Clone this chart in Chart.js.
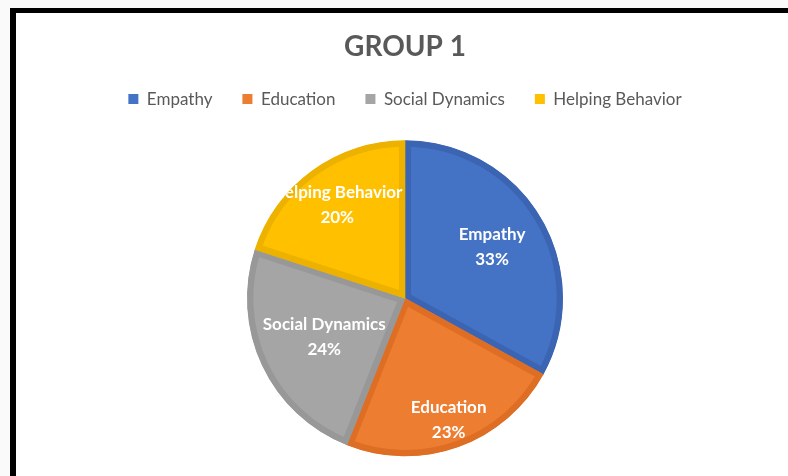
<!DOCTYPE html>
<html>
<head>
<meta charset="utf-8">
<script src="https://cdn.jsdelivr.net/npm/chart.js@4.4.1/dist/chart.umd.min.js"></script>
<style>
    html, body { margin: 0; padding: 0; background: #fafafa; overflow: hidden; }
    #frame {
        position: absolute; left: 10px; top: 8px; width: 820px; height: 520px;
        border-left: 6px solid #000; border-top: 5px solid #000; background: #fff;
    }
    #chart-wrap { position: absolute; left: 0; top: 0; width: 778px; height: 500px; }
</style>
</head>
<body>
<div id="frame">
    <div id="chart-wrap"><canvas id="groupChart"></canvas></div>
</div>
<script>
const categories = ['Empathy', 'Education', 'Social Dynamics', 'Helping Behavior'];
const shares = [33, 23, 24, 20];
const sliceColors = ['#4472C4', '#ED7D31', '#A5A5A5', '#FFC000'];
const edgeColors = ['#3B65B3', '#DD6E24', '#989898', '#EDB200'];

// Draws "Name / NN%" inside each slice, clipped to the slice like the office chart does
const sliceLabels = {
    id: 'sliceLabels',
    afterDatasetsDraw(chart, args, opts) {
        const ctx = chart.ctx;
        const meta = chart.getDatasetMeta(0);
        meta.data.forEach((arc, i) => {
            const p = arc.getProps(['x', 'y', 'startAngle', 'endAngle', 'outerRadius']);
            const mid = (p.startAngle + p.endAngle) / 2;
            const r = p.outerRadius * opts.radiusFactor[i];
            const cx = p.x + Math.cos(mid) * r;
            const cy = p.y + Math.sin(mid) * r;

            ctx.save();
            ctx.beginPath();
            ctx.moveTo(p.x, p.y);
            ctx.arc(p.x, p.y, p.outerRadius, p.startAngle, p.endAngle);
            ctx.closePath();
            ctx.clip();
            ctx.fillStyle = '#ffffff';
            ctx.font = 'bold 17px Lato';
            ctx.textAlign = 'center';
            ctx.textBaseline = 'middle';
            ctx.fillText(categories[i], cx, cy - 12);
            ctx.fillText(shares[i] + '%', cx, cy + 13);
            ctx.restore();
        });
    }
};

new Chart(document.getElementById('groupChart'), {
    type: 'pie',
    data: {
        labels: categories,
        datasets: [{
            data: shares,
            backgroundColor: sliceColors,
            borderColor: edgeColors,
            borderWidth: 6,
            borderAlign: 'inner',
            radius: 158
        }]
    },
    options: {
        responsive: true,
        maintainAspectRatio: false,
        animation: false,
        layout: { padding: { top: 0, bottom: 34 } },
        plugins: {
            title: {
                display: true,
                text: 'GROUP 1',
                color: '#595959',
                font: { family: 'Lato', size: 28, weight: 'bold' },
                padding: { top: 17, bottom: -3 }
            },
            legend: {
                position: 'top',
                labels: {
                    color: '#595959',
                    font: { family: 'Lato', size: 17 },
                    boxWidth: 10,
                    boxHeight: 10,
                    padding: 30,
                    // plain filled squares, no outline
                    generateLabels(chart) {
                        return categories.map((name, i) => ({
                            text: name,
                            fillStyle: sliceColors[i],
                            strokeStyle: sliceColors[i],
                            lineWidth: 0,
                            fontColor: '#595959',
                            hidden: false,
                            index: i
                        }));
                    }
                }
            },
            tooltip: { enabled: false },
            sliceLabels: { radiusFactor: [0.64, 0.815, 0.565, 0.73] }
        }
    },
    plugins: [sliceLabels]
});
</script>
</body>
</html>
